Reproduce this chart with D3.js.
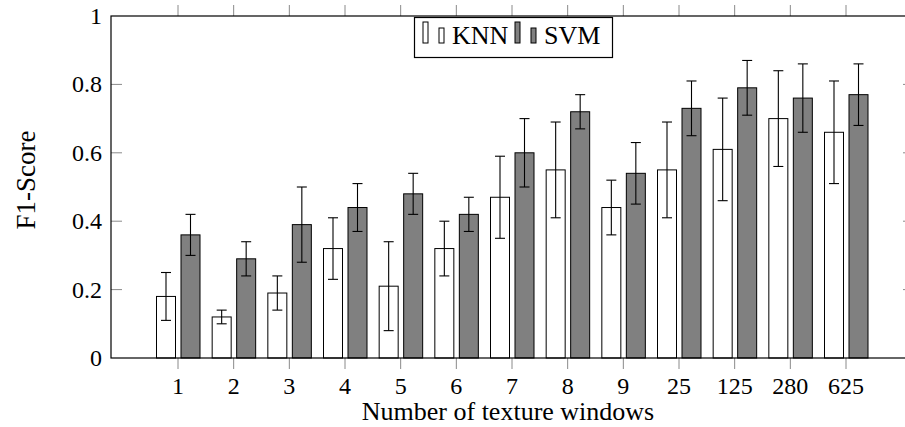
<!DOCTYPE html>
<html>
<head>
<meta charset="utf-8">
<script src="https://cdn.jsdelivr.net/npm/d3@7"></script>
<style>
  body { margin: 0; background: #fff; }
  text { font-family: 'Liberation Serif', 'DejaVu Serif', serif; }
</style>
</head>
<body>
<svg width="905" height="427"></svg>
<script>
(function (d3) {
  'use strict';

  // data
  const windows = ['1', '2', '3', '4', '5', '6', '7', '8', '9', '25', '125', '280', '625'];
  const knn = [0.18, 0.12, 0.19, 0.32, 0.21, 0.32, 0.47, 0.55, 0.44, 0.55, 0.61, 0.70, 0.66];
  const knnErr = [0.07, 0.02, 0.05, 0.09, 0.13, 0.08, 0.12, 0.14, 0.08, 0.14, 0.15, 0.14, 0.15];
  const svmScore = [0.36, 0.29, 0.39, 0.44, 0.48, 0.42, 0.60, 0.72, 0.54, 0.73, 0.79, 0.76, 0.77];
  const svmErr = [0.06, 0.05, 0.11, 0.07, 0.06, 0.05, 0.10, 0.05, 0.09, 0.08, 0.08, 0.10, 0.09];
  const yTicks = [0, 0.2, 0.4, 0.6, 0.8, 1];

  const series = [
    { name: 'KNN', values: knn, err: knnErr, fill: '#ffffff', offset: -12 },
    { name: 'SVM', values: svmScore, err: svmErr, fill: '#808080', offset: 12.5 }
  ];

  const svg = d3.select('svg');
  const font = "'Liberation Serif', 'DejaVu Serif', serif";
  const left = 111, right = 914, top = 16, bottom = 358;
  const barW = 19;

  const x = d3.scaleLinear().domain([0, windows.length - 1]).range([178, 846]);
  const y = d3.scaleLinear().domain([0, 1]).range([bottom, top]);

  // ticks
  const tickCol = '#8a8a8a';
  svg.append('g').selectAll('line')
    .data(windows)
    .join('line')
    .attr('x1', (d, i) => x(i)).attr('x2', (d, i) => x(i))
    .attr('y1', bottom).attr('y2', bottom + 11)
    .attr('stroke', tickCol);
  svg.append('g').selectAll('line')
    .data(windows)
    .join('line')
    .attr('x1', (d, i) => x(i)).attr('x2', (d, i) => x(i))
    .attr('y1', top).attr('y2', top - 11)
    .attr('stroke', tickCol);
  svg.append('g').selectAll('line')
    .data(yTicks.slice(1, -1))
    .join('line')
    .attr('x1', left).attr('x2', left + 11)
    .attr('y1', d => y(d)).attr('y2', d => y(d))
    .attr('stroke', tickCol);
  svg.append('g').selectAll('line')
    .data(yTicks.slice(1, -1))
    .join('line')
    .attr('x1', right).attr('x2', right - 11)
    .attr('y1', d => y(d)).attr('y2', d => y(d))
    .attr('stroke', tickCol);

  // bars
  series.forEach(s => {
    const g = svg.append('g');
    g.selectAll('rect')
      .data(s.values)
      .join('rect')
      .attr('x', (d, i) => x(i) + s.offset - barW / 2)
      .attr('y', d => y(d))
      .attr('width', barW)
      .attr('height', d => bottom - y(d))
      .attr('fill', s.fill)
      .attr('stroke', '#000')
      .attr('stroke-width', 1);

    const eb = g.selectAll('g')
      .data(s.values.map((v, i) => ({ v, e: s.err[i], i })))
      .join('g')
      .attr('stroke', '#000')
      .attr('stroke-width', 1.1);
    eb.append('line')
      .attr('x1', d => x(d.i) + s.offset).attr('x2', d => x(d.i) + s.offset)
      .attr('y1', d => y(d.v - d.e)).attr('y2', d => y(d.v + d.e));
    [-1, 1].forEach(sign => {
      eb.append('line')
        .attr('x1', d => x(d.i) + s.offset - 5).attr('x2', d => x(d.i) + s.offset + 5)
        .attr('y1', d => y(d.v + sign * d.e)).attr('y2', d => y(d.v + sign * d.e));
    });
  });

  // frame
  svg.append('rect')
    .attr('x', left).attr('y', top)
    .attr('width', right - left).attr('height', bottom - top)
    .attr('fill', 'none').attr('stroke', '#000').attr('stroke-width', 1.2);

  // tick labels
  svg.append('g').selectAll('text')
    .data(windows)
    .join('text')
    .attr('x', (d, i) => x(i))
    .attr('y', 394)
    .attr('text-anchor', 'middle')
    .attr('font-family', font)
    .attr('font-size', 24)
    .text(d => d);
  svg.append('g').selectAll('text')
    .data(yTicks)
    .join('text')
    .attr('x', 102)
    .attr('y', d => y(d) + 8)
    .attr('text-anchor', 'end')
    .attr('font-family', font)
    .attr('font-size', 24)
    .text(d => d3.format('~g')(d));

  // axis titles
  svg.append('text')
    .attr('x', 508).attr('y', 420)
    .attr('text-anchor', 'middle')
    .attr('font-family', font)
    .attr('font-size', 26)
    .text('Number of texture windows');
  svg.append('text')
    .attr('transform', 'translate(35,180) rotate(-90)')
    .attr('text-anchor', 'middle')
    .attr('font-family', font)
    .attr('font-size', 27)
    .text('F1-Score');

  // legend
  const lg = svg.append('g');
  lg.append('rect')
    .attr('x', 414.5).attr('y', 17.5).attr('width', 198).attr('height', 40)
    .attr('fill', '#fff').attr('stroke', '#000').attr('stroke-width', 1.2);
  const entryX = [423, 515];
  series.forEach((s, k) => {
    const ex = entryX[k];
    lg.append('rect')
      .attr('x', ex).attr('y', 22).attr('width', 5).attr('height', 21)
      .attr('fill', s.fill).attr('stroke', '#000');
    lg.append('rect')
      .attr('x', ex + 16).attr('y', 28).attr('width', 5).attr('height', 15)
      .attr('fill', s.fill).attr('stroke', '#000');
    lg.append('text')
      .attr('x', ex + 29).attr('y', 44)
      .attr('font-family', font)
      .attr('font-size', 26)
      .text(s.name);
  });
}(d3));
</script>
</body>
</html>
